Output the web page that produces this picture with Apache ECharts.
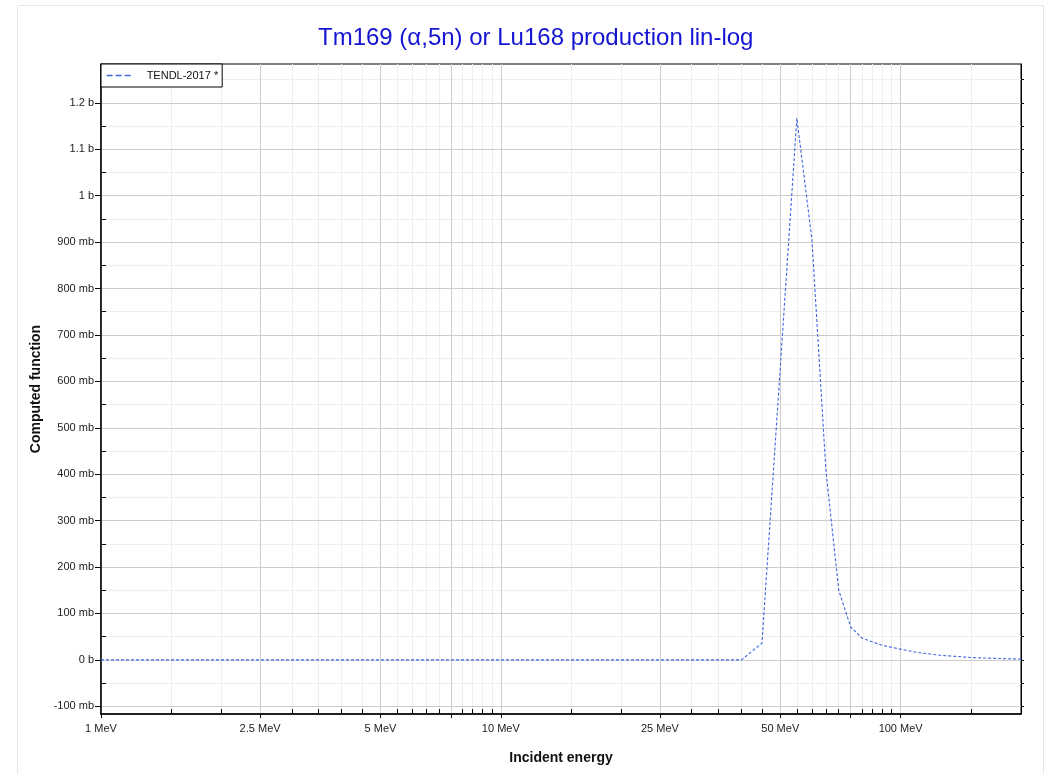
<!DOCTYPE html>
<html><head><meta charset="utf-8">
<script src="https://cdn.jsdelivr.net/npm/echarts@6/dist/echarts.min.js"></script>
<style>html,body{margin:0;padding:0;background:#fff}#c{width:1053px;height:774px}</style>
</head><body><div id="c"></div>
<script>
// Data (MeV, mb)
const energies = [1, 40, 45, 55, 60, 65, 70, 75, 80, 90, 100, 110, 125, 150, 175, 200];
const sigmaMb  = [0, 0, 36, 1167, 905, 410, 150, 71, 47, 31, 23, 16, 10, 5, 3, 1.5];
const seriesName = 'TENDL-2017 *';
const titleText = 'Tm169 (\u03b1,5n) or Lu168 production lin-log';

// Ticks
const xLabelTicks = [1, 2.5, 5, 10, 25, 50, 100];
const xMajorTicks = [1, 2.5, 5, 7.5, 10, 25, 50, 75, 100];
const xMinorTicks = [1.5, 2, 3, 3.5, 4, 4.5, 5.5, 6, 6.5, 7, 8, 8.5, 9, 9.5, 15, 20, 30, 35, 40, 45, 55, 60, 65, 70, 80, 85, 90, 95, 150];
const yMajorTicks = [-100, 0, 100, 200, 300, 400, 500, 600, 700, 800, 900, 1000, 1100, 1200];
const yMinorTicks = [-50, 50, 150, 250, 350, 450, 550, 650, 750, 850, 950, 1050, 1150, 1250];

const xAll = xMajorTicks.concat(xMinorTicks).sort((a, b) => a - b);
const yAll = yMajorTicks.concat(yMinorTicks).sort((a, b) => a - b);
const peak = Math.max.apply(null, sigmaMb);
const yMin = -0.1 * peak, yMax = 1.1 * peak;

const FONT = 'Liberation Sans, Arial, sans-serif';
const MAJOR = '#cdcdcd', MINOR = '#eeeeee';
const LINE = '#3d66e0';

function yFmt(v) {
  if (v === 0) return '0 b';
  if (Math.abs(v) >= 1000) return (Math.round(v / 100) / 10) + ' b';
  return v + ' mb';
}

const chart = echarts.init(document.getElementById('c'), null, {renderer: 'canvas'});
chart.setOption({
  animation: false,
  backgroundColor: '#fff',
  title: {
    text: titleText, left: 313, top: 21,
    textStyle: {color: '#1414d2', fontSize: 24, fontWeight: 'normal', fontFamily: FONT}
  },
  graphic: [{
    type: 'rect', z: -10, silent: true,
    shape: {x: 17.5, y: 5.5, width: 1026, height: 800},
    style: {fill: 'none', stroke: '#e6e6e6', lineWidth: 1}
  }],
  legend: {
    data: [seriesName], left: 101, top: 64, orient: 'horizontal',
    backgroundColor: '#fff', borderColor: '#000', borderWidth: 1,
    padding: [6, 4, 6, 5], itemWidth: 27, itemHeight: 10,
    itemStyle: {color: 'rgba(0,0,0,0)', borderWidth: 0},
    lineStyle: {type: [6, 3], width: 1.3, color: LINE, opacity: 1},
    textStyle: {fontSize: 11, color: '#111', fontFamily: FONT, padding: [0, 0, 0, 8]}
  },
  grid: {left: 101, right: 32, top: 64, bottom: 60, show: true, borderColor: '#000', borderWidth: 1, containLabel: false},
  xAxis: [
    {
      type: 'log', logBase: 10, min: 1, max: 200, position: 'bottom', z: 1,
      name: 'Incident energy', nameLocation: 'middle', nameGap: 37,
      nameTextStyle: {fontSize: 14, fontWeight: 'bold', color: '#111', fontFamily: FONT},
      axisLine: {show: true, onZero: false, lineStyle: {color: '#000', width: 1.5}},
      axisTick: {show: true, inside: false, length: 4, customValues: xMajorTicks, lineStyle: {color: '#000'}},
      axisLabel: {show: true, customValues: xLabelTicks, margin: 9, fontSize: 11, color: '#222', fontFamily: FONT,
        formatter: v => v + ' MeV'},
      splitLine: {show: true, lineStyle: {color: MAJOR, width: 1}},
      minorTick: {show: false}, minorSplitLine: {show: false}
    },
    {
      type: 'log', logBase: 10, min: 1, max: 200, position: 'bottom', z: 0,
      axisLine: {show: false, onZero: false},
      axisTick: {show: true, inside: true, length: 5, customValues: xAll, lineStyle: {color: '#000'}},
      axisLabel: {show: false},
      splitLine: {show: true, lineStyle: {color: MINOR, width: 1}}
    }
  ],
  yAxis: [
    {
      type: 'value', min: yMin, max: yMax, position: 'left', z: 1,
      name: 'Computed function', nameLocation: 'middle', nameGap: 58,
      nameTextStyle: {fontSize: 14, fontWeight: 'bold', color: '#111', fontFamily: FONT},
      axisLine: {show: true, onZero: false, lineStyle: {color: '#000', width: 1.5}},
      axisTick: {show: true, inside: false, length: 6, customValues: yMajorTicks, lineStyle: {color: '#000'}},
      axisLabel: {show: true, customValues: yMajorTicks, margin: 7, fontSize: 11, color: '#222', fontFamily: FONT,
        formatter: yFmt},
      splitLine: {show: true, lineStyle: {color: MAJOR, width: 1}}
    },
    {
      type: 'value', min: yMin, max: yMax, position: 'left', z: 0,
      axisLine: {show: false, onZero: false},
      axisTick: {show: true, inside: true, length: 5, customValues: yAll, lineStyle: {color: '#000'}},
      axisLabel: {show: false},
      splitLine: {show: true, lineStyle: {color: MINOR, width: 1}}
    },
    {
      type: 'value', min: yMin, max: yMax, position: 'right', z: 1,
      axisLine: {show: true, onZero: false, lineStyle: {color: '#000', width: 1}},
      axisTick: {show: true, inside: false, length: 3, customValues: yAll, lineStyle: {color: '#000'}},
      axisLabel: {show: false},
      splitLine: {show: false}
    }
  ],
  series: [{
    name: seriesName, type: 'line', xAxisIndex: 0, yAxisIndex: 0,
    data: energies.map((e, i) => [e, sigmaMb[i]]),
    symbol: 'none', showSymbol: false, z: 3,
    lineStyle: {color: LINE, width: 1.1, type: [3, 2]},
    itemStyle: {color: LINE}
  }]
});
</script>
</body></html>
